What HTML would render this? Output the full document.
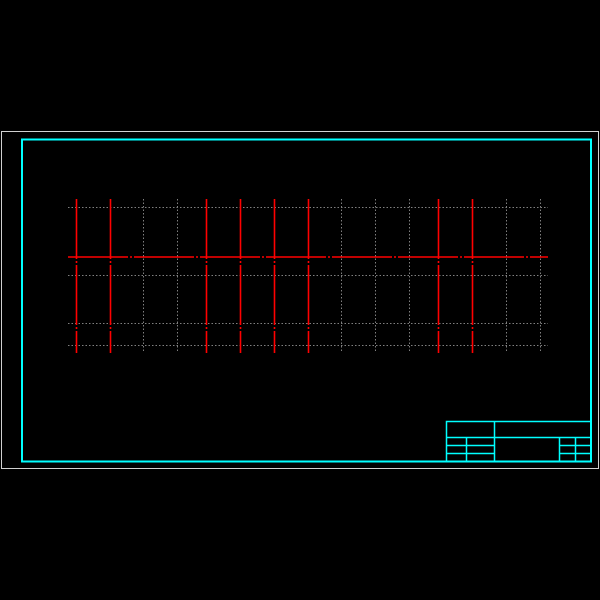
<!DOCTYPE html>
<html><head><style>html,body{margin:0;padding:0;background:#000;width:600px;height:600px;overflow:hidden}</style></head>
<body>
<svg width="600" height="600" xmlns="http://www.w3.org/2000/svg" style="display:block">
<rect width="600" height="600" fill="#000"/>
<rect x="1.5" y="131.5" width="597" height="337" fill="none" stroke="#d0d0d0" stroke-width="1"/>
<rect x="22" y="139.5" width="569" height="322" fill="none" stroke="#00ffff" stroke-width="2"/>
<g stroke="#00ffff" stroke-width="1.5" fill="none">
<rect x="446.5" y="421.5" width="144.5" height="40"/>
<line x1="494.5" y1="421" x2="494.5" y2="461"/>
<line x1="446" y1="437.5" x2="591" y2="437.5"/>
<line x1="446" y1="445.5" x2="494" y2="445.5"/>
<line x1="446" y1="453.5" x2="494" y2="453.5"/>
<line x1="559" y1="445.5" x2="591" y2="445.5"/>
<line x1="559" y1="453.5" x2="591" y2="453.5"/>
<line x1="466.5" y1="437" x2="466.5" y2="461"/>
<line x1="559.5" y1="437" x2="559.5" y2="461"/>
<line x1="575.5" y1="437" x2="575.5" y2="461"/>
</g>
<g stroke="#808080" stroke-width="1" stroke-dasharray="1.5,2">
<line x1="68" y1="207.5" x2="548" y2="207.5"/>
<line x1="68" y1="275.5" x2="548" y2="275.5"/>
<line x1="68" y1="323.5" x2="548" y2="323.5"/>
<line x1="68" y1="345.5" x2="548" y2="345.5"/>
<line x1="143.5" y1="199" x2="143.5" y2="353"/>
<line x1="177.5" y1="199" x2="177.5" y2="353"/>
<line x1="341.5" y1="199" x2="341.5" y2="353"/>
<line x1="375.5" y1="199" x2="375.5" y2="353"/>
<line x1="409.5" y1="199" x2="409.5" y2="353"/>
<line x1="506.5" y1="199" x2="506.5" y2="353"/>
<line x1="540.5" y1="199" x2="540.5" y2="353"/>
</g>
<g stroke="#ff0000" stroke-width="1.6" stroke-dasharray="60,2,2,2">
<line x1="68" y1="257" x2="548" y2="257"/>
<line x1="76.5" y1="199" x2="76.5" y2="353"/>
<line x1="110.5" y1="199" x2="110.5" y2="353"/>
<line x1="206.5" y1="199" x2="206.5" y2="353"/>
<line x1="240.5" y1="199" x2="240.5" y2="353"/>
<line x1="274.5" y1="199" x2="274.5" y2="353"/>
<line x1="308.5" y1="199" x2="308.5" y2="353"/>
<line x1="438.5" y1="199" x2="438.5" y2="353"/>
<line x1="472.5" y1="199" x2="472.5" y2="353"/>
</g>
</svg>
</body></html>
